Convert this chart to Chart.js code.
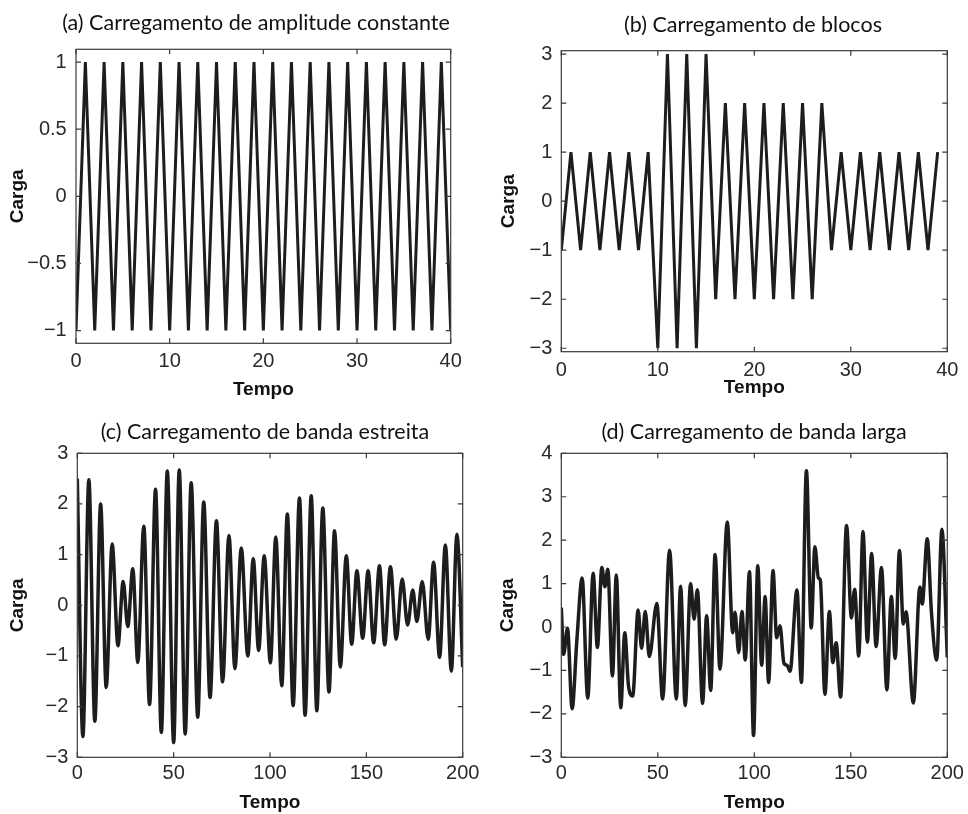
<!DOCTYPE html>
<html>
<head>
<meta charset="utf-8">
<script src="https://cdn.jsdelivr.net/npm/chart.js@4.4.1/dist/chart.umd.min.js"></script>
<style>
  body { margin: 0; background: #fff; overflow: hidden; }
  #wrap { position: relative; width: 968px; height: 814px; }
  canvas { position: absolute; }
</style>
</head>
<body>
<div id="wrap">
  <canvas id="chartA"></canvas>
  <canvas id="chartB"></canvas>
  <canvas id="chartC"></canvas>
  <canvas id="chartD"></canvas>
</div>
<script>
// (a) constant amplitude
const aTime = [0,1,2,3,4,5,6,7,8,9,10,11,12,13,14,15,16,17,18,19,20,21,22,23,24,25,26,27,28,29,30,31,32,33,34,35,36,37,38,39,40];
const aLoad = [-1,1,-1,1,-1,1,-1,1,-1,1,-1,1,-1,1,-1,1,-1,1,-1,1,-1,1,-1,1,-1,1,-1,1,-1,1,-1,1,-1,1,-1,1,-1,1,-1,1,-1];
const aXTicks = [0, 10, 20, 30, 40];
const aYTicks = [-1, -0.5, 0, 0.5, 1];

// (b) blocks
const bTime = [0,1,2,3,4,5,6,7,8,9,10,11,12,13,14,15,16,17,18,19,20,21,22,23,24,25,26,27,28,29,30,31,32,33,34,35,36,37,38,39];
const bLoad = [-1,1,-1,1,-1,1,-1,1,-1,1,-3,3,-3,3,-3,3,-2,2,-2,2,-2,2,-2,2,-2,2,-2,2,-1,1,-1,1,-1,1,-1,1,-1,1,-1,1];
const bXTicks = [0, 10, 20, 30, 40];
const bYTicks = [-3, -2, -1, 0, 1, 2, 3];

// (c) narrow band (peaks and valleys)
const cTime = [0,2.9,6.0,9.1,12.1,15.0,18.1,21.1,23.8,26.2,28.8,31.4,34.5,37.5,40.6,43.6,46.7,50.0,52.9,56.0,
  59.1,62.5,65.6,68.9,72.2,75.4,78.7,81.8,85.1,88.5,91.3,94.1,97.0,100.2,103.0,106.1,109.0,112.0,115.3,118.2,
  121.4,124.3,127.4,130.6,133.5,136.5,139.6,142.4,145.1,148.1,150.9,153.8,156.8,159.5,162.5,165.5,168.6,171.4,174.1,176.2,
  179.0,182.1,184.9,188.0,191.0,194.1,197.0,200];
const cLoad = [2.5,-2.59,2.48,-2.29,2.0,-1.62,1.21,-0.8,0.47,-0.42,0.72,-1.13,1.56,-1.96,2.29,-2.51,2.65,-2.71,2.67,-2.54,
  2.42,-2.21,2.04,-1.82,1.67,-1.51,1.38,-1.25,1.13,-1.0,0.92,-0.89,0.98,-1.14,1.35,-1.59,1.8,-1.98,2.12,-2.17,
  2.16,-2.08,1.92,-1.71,1.47,-1.22,0.98,-0.77,0.68,-0.65,0.68,-0.74,0.78,-0.78,0.76,-0.67,0.52,-0.39,0.3,-0.32,
  0.47,-0.67,0.85,-1.03,1.19,-1.3,1.4,-1.22];
const cXTicks = [0, 50, 100, 150, 200];
const cYTicks = [-3, -2, -1, 0, 1, 2, 3];

// (d) broad band
const dTime = [0,1.2,3.2,5.6,8.1,10.8,13.7,16.5,18.7,21.0,22.6,24.1,26.5,28.5,30.8,32.9,34.8,37.0,39.8,41.6,
  43.5,45.6,49.5,52.5,56.1,59.6,61.8,64.2,67.0,68.8,70.5,73.2,75.3,77.4,79.7,82.2,86.0,88.8,90.0,91.9,
  93.6,95.3,97.5,99.6,101.8,103.8,105.6,107.4,109.7,111.6,113.3,115.4,117.0,118.5,122.1,124.4,127.0,129.5,131.4,133.2,
  134.2,136.6,138.9,140.7,142.4,144.7,147.8,150.3,152.0,154.1,156.3,158.6,160.8,163.1,165.9,168.7,171.0,173.0,175.2,177.2,
  178.6,182.4,185.8,187.0,189.6,191.8,194.5,197.2,200];
const dLoad = [0.45,-0.63,-0.03,-1.88,-0.28,1.13,-1.64,1.24,-0.47,1.37,0.93,1.33,-1.13,1.2,-1.86,-0.13,-1.35,-1.59,0.39,-0.49,
  0.36,-0.68,0.54,-1.66,1.77,-1.66,0.94,-1.81,1.0,0.18,0.86,-1.76,0.26,-1.46,1.67,-0.97,2.42,-0.13,0.34,-0.59,
  0.36,-0.76,1.27,-2.5,1.41,-0.88,0.7,-1.28,1.3,-0.25,0.03,-0.84,-0.88,-1.02,0.85,-1.28,3.6,-0.02,1.85,1.13,
  1.08,-1.55,0.36,-0.82,-0.36,-1.61,2.34,0.21,0.87,-0.67,2.2,-0.35,1.69,-0.45,1.37,-1.45,0.7,-0.72,1.76,0.07,
  0.35,-1.75,0.92,0.53,2.03,0.33,-0.76,2.25,-0.7];
const dXTicks = [0, 50, 100, 150, 200];
const dYTicks = [-3, -2, -1, 0, 1, 2, 3, 4];

const tickFont = { family: 'Liberation Sans, Arial, sans-serif', size: 20 };
const labelFont = { family: 'Liberation Sans, Arial, sans-serif', size: 19, weight: 'bold' };
const minus = v => String(v).replace('-', '\u2212');

// box around the plot with inward ticks on all four sides
const frameTicks = {
  id: 'frameTicks',
  afterDatasetsDraw(chart) {
    const { ctx, chartArea: area, scales: { x, y } } = chart;
    const len = 5;
    ctx.save();
    ctx.strokeStyle = '#3a3a3a';
    ctx.lineWidth = 1.2;
    ctx.strokeRect(area.left, area.top, area.width, area.height);
    ctx.beginPath();
    x.ticks.forEach(t => {
      const px = x.getPixelForValue(t.value);
      ctx.moveTo(px, area.bottom); ctx.lineTo(px, area.bottom - len);
      ctx.moveTo(px, area.top); ctx.lineTo(px, area.top + len);
    });
    y.ticks.forEach(t => {
      const py = y.getPixelForValue(t.value);
      ctx.moveTo(area.left, py); ctx.lineTo(area.left + len, py);
      ctx.moveTo(area.right, py); ctx.lineTo(area.right - len, py);
    });
    ctx.stroke();
    ctx.restore();
  }
};

function makePanel(id, p) {
  const canvas = document.getElementById(id);
  canvas.width = p.w;
  canvas.height = p.h;
  canvas.style.left = p.left + 'px';
  canvas.style.top = p.top + 'px';

  return new Chart(canvas.getContext('2d'), {
    type: 'line',
    data: {
      datasets: [{
        data: p.time.map((t, i) => ({ x: t, y: p.load[i] })),
        borderColor: '#1f1c1d',
        borderWidth: p.lw,
        pointRadius: 0,
        tension: p.smooth ? 0.4 : 0,
        cubicInterpolationMode: p.smooth ? 'monotone' : 'default'
      }]
    },
    options: {
      responsive: false,
      animation: false,
      layout: { padding: 0 },
      plugins: {
        legend: { display: false },
        tooltip: { enabled: false },
        title: {
          display: true,
          text: p.title,
          color: '#111',
          font: { family: 'Lato, sans-serif', size: 21.5, weight: 'normal', lineHeight: 1.2 },
          padding: { top: p.titleTop, bottom: p.titleBottom }
        }
      },
      scales: {
        x: {
          type: 'linear',
          min: p.xMin, max: p.xMax,
          grid: { display: false, drawTicks: false },
          border: { display: false },
          afterBuildTicks: s => { s.ticks = p.xTicks.map(v => ({ value: v })); },
          afterFit: s => { s.height = p.xH; },
          ticks: { font: tickFont, color: '#2a2a2a', padding: p.xTickPad, maxRotation: 0, callback: minus },
          title: { display: true, text: 'Tempo', font: labelFont, color: '#111', padding: { top: 0, bottom: p.xTitlePad } }
        },
        y: {
          min: p.yMin, max: p.yMax,
          grid: { display: false, drawTicks: false },
          border: { display: false },
          afterBuildTicks: s => { s.ticks = p.yTicks.map(v => ({ value: v })); },
          afterFit: s => { s.width = p.yW; },
          ticks: { font: tickFont, color: '#2a2a2a', padding: p.yTickPad, callback: minus },
          title: { display: true, text: 'Carga', font: labelFont, color: '#111', padding: { top: p.yTitlePad, bottom: 0 } }
        },
        pad: {
          type: 'linear',
          position: 'right',
          grid: { display: false, drawTicks: false },
          border: { display: false },
          ticks: { display: false },
          afterFit: s => { s.width = p.rW; }
        }
      }
    },
    plugins: [frameTicks]
  });
}

makePanel('chartA', {
  left: 0, top: 0, w: 512, h: 402, yW: 76, rW: 61.3, xH: 58.7,
  titleTop: 10.6, titleBottom: 12.9, yTitlePad: 6.6, yTickPad: 9.3, xTickPad: 5.7, xTitlePad: 0.6,
  title: '(a) Carregamento de amplitude constante',
  time: aTime, load: aLoad, xTicks: aXTicks, yTicks: aYTicks,
  xMin: 0, xMax: 40, yMin: -1.095, yMax: 1.095, lw: 3, smooth: false
});

makePanel('chartB', {
  left: 484, top: 0, w: 538, h: 400, yW: 77.3, rW: 74.7, xH: 48.3,
  titleTop: 12.6, titleBottom: 12.3, yTitlePad: 13.6, yTickPad: 9, xTickPad: 6.3, xTitlePad: 0.6,
  title: '(b) Carregamento de blocos',
  time: bTime, load: bLoad, xTicks: bXTicks, yTicks: bYTicks,
  xMin: 0, xMax: 40, yMin: -3.07, yMax: 3.07, lw: 3, smooth: false
});

makePanel('chartC', {
  left: 0, top: 400, w: 530, h: 414, yW: 77.3, rW: 67.3, xH: 56.7,
  titleTop: 19.1, titleBottom: 8.4, yTitlePad: 6.6, yTickPad: 9, xTickPad: 4.4, xTitlePad: 0,
  title: '(c) Carregamento de banda estreita',
  time: cTime, load: cLoad, xTicks: cXTicks, yTicks: cYTicks,
  xMin: 0, xMax: 200, yMin: -3, yMax: 3, lw: 3.5, smooth: true
});

makePanel('chartD', {
  left: 484, top: 400, w: 540, h: 414, yW: 77.3, rW: 76.7, xH: 56.7,
  titleTop: 19.1, titleBottom: 8.4, yTitlePad: 12.6, yTickPad: 9, xTickPad: 4.4, xTitlePad: 0,
  title: '(d) Carregamento de banda larga',
  time: dTime, load: dLoad, xTicks: dXTicks, yTicks: dYTicks,
  xMin: 0, xMax: 200, yMin: -3, yMax: 4, lw: 3.5, smooth: true
});
</script>
</body>
</html>
